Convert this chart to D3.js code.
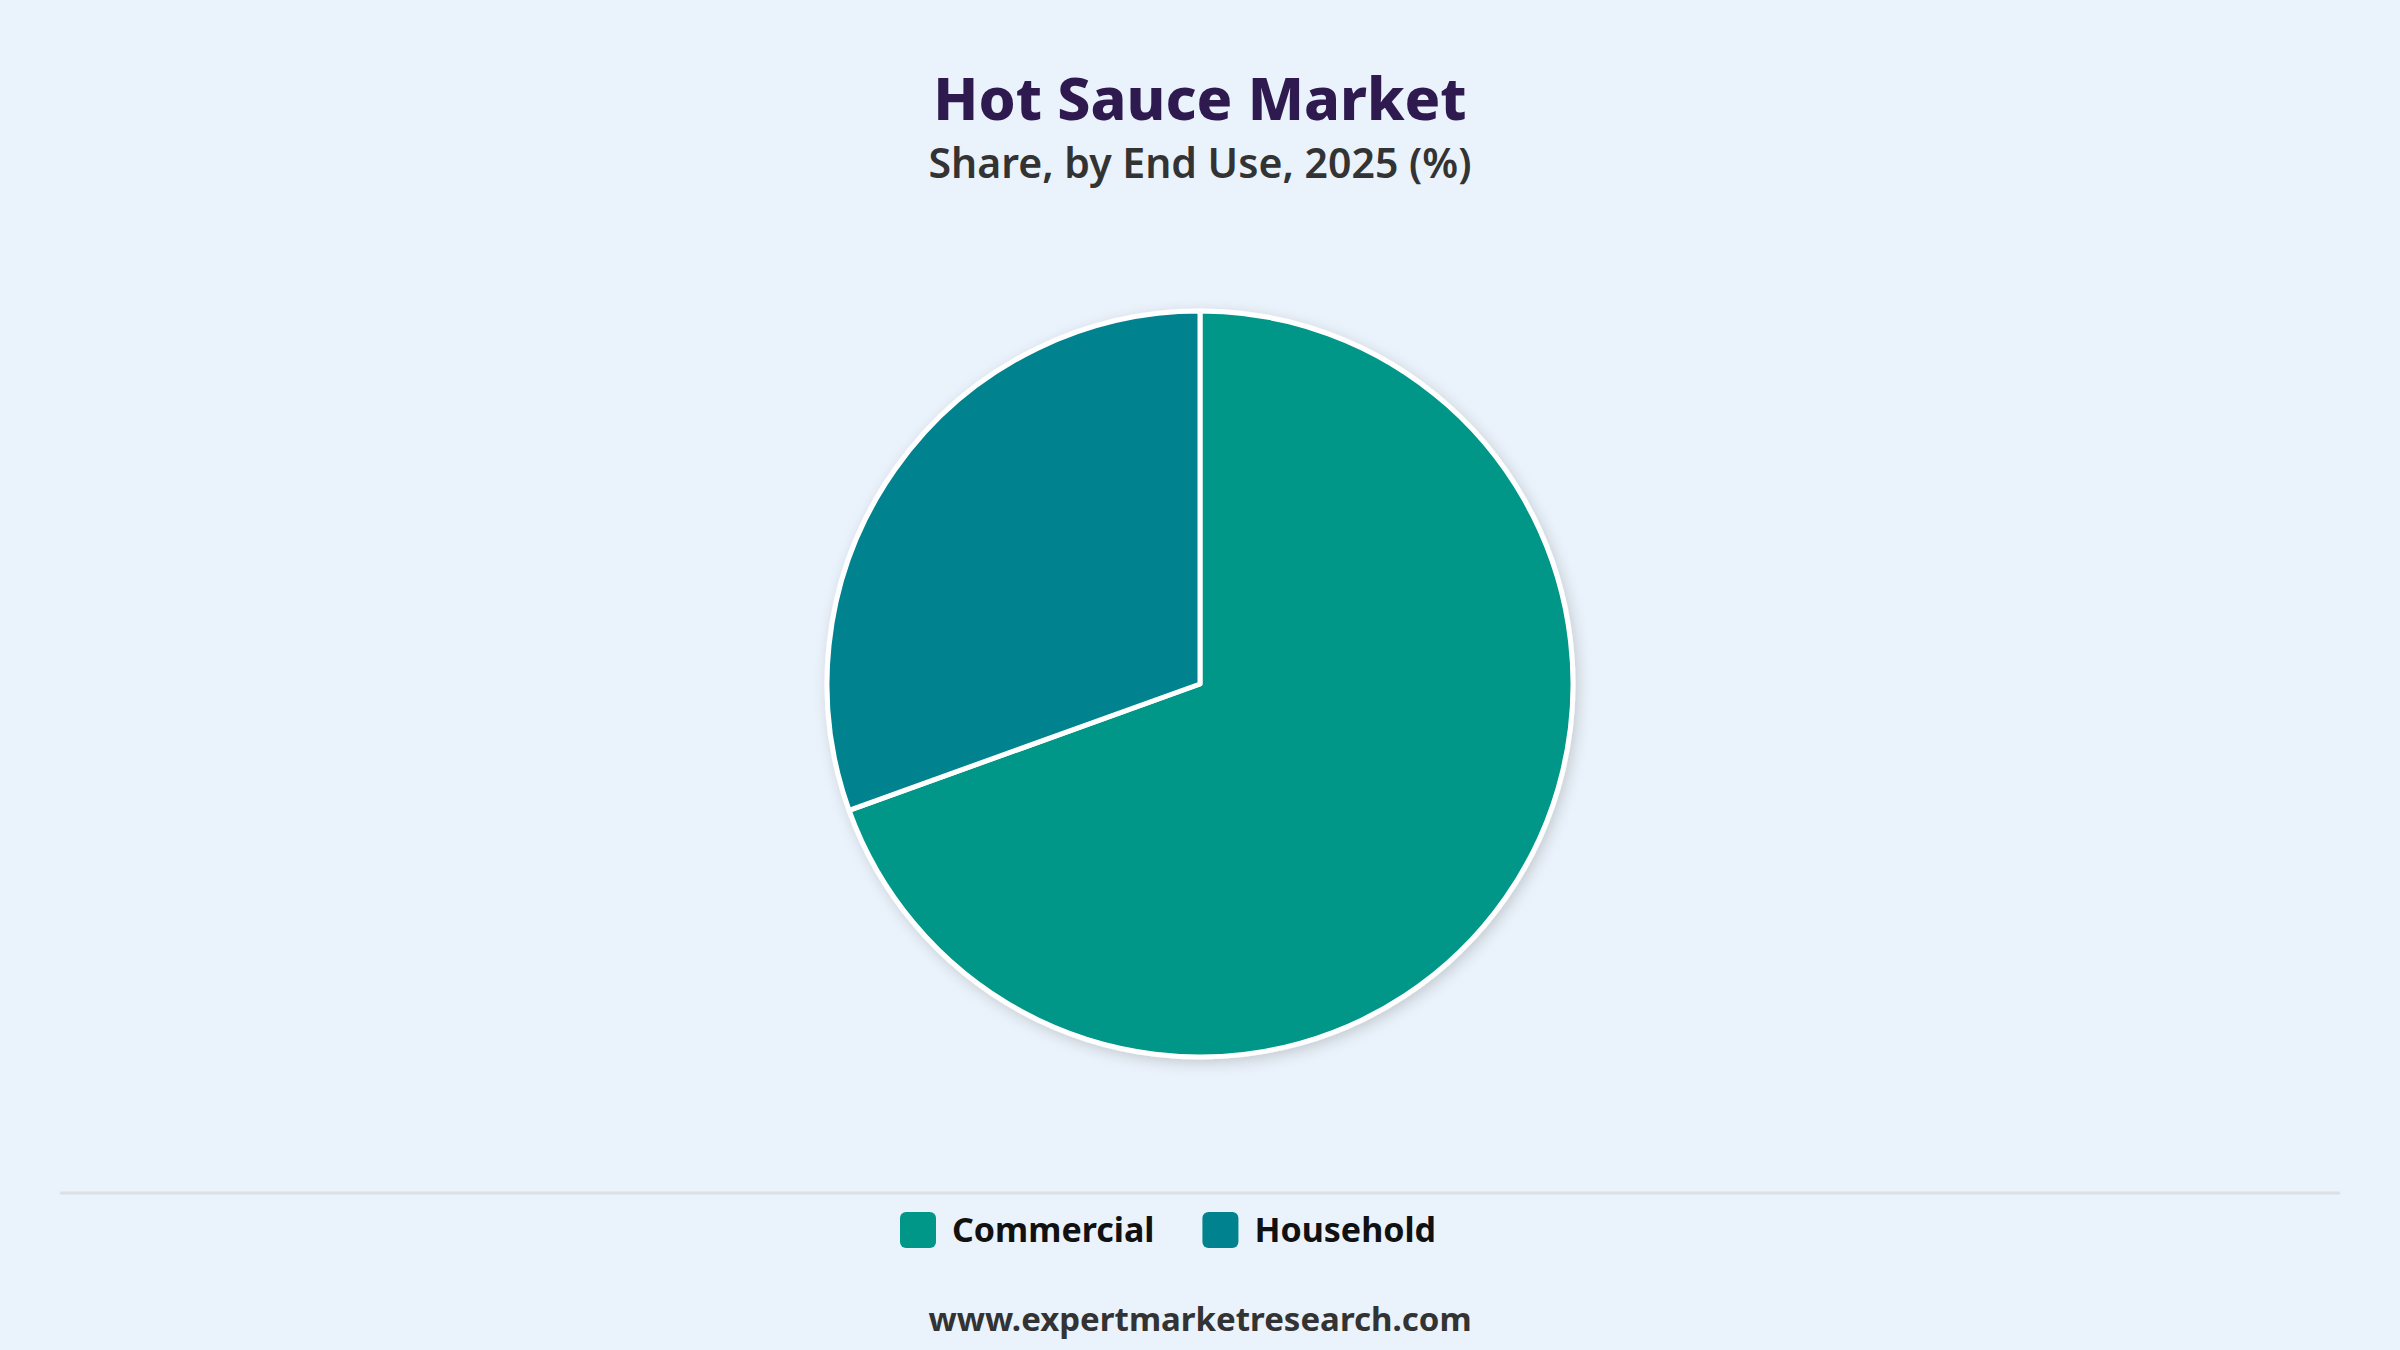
<!DOCTYPE html>
<html>
<head>
<meta charset="utf-8">
<script src="https://cdn.jsdelivr.net/npm/d3@7"></script>
<style>
  html, body { margin: 0; padding: 0; background: #EAF2FB; }
  svg { display: block; font-family: "Noto Sans", "Open Sans", sans-serif; }
</style>
</head>
<body>
<svg id="chart"></svg>
<script>
// chart data
const categories = ["Commercial", "Household"];
const shares = [69.5, 30.5];
const sliceColors = ["#009688", "#00838F"];

const titleText = "Hot Sauce Market";
const subtitleText = "Share, by End Use, 2025 (%)";
const sourceText = "www.expertmarketresearch.com";

const width = 2400, height = 1350;
const cx = 1200, cy = 684, radius = 373;

const svg = d3.select("#chart")
    .attr("width", width)
    .attr("height", height);

svg.append("rect")
    .attr("width", width)
    .attr("height", height)
    .attr("fill", "#EAF2FB");

// soft shadow behind the pie
const defs = svg.append("defs");
const shadow = defs.append("filter")
    .attr("id", "pieShadow")
    .attr("x", "-20%").attr("y", "-20%")
    .attr("width", "140%").attr("height", "140%");
shadow.append("feDropShadow")
    .attr("dx", 3).attr("dy", 4)
    .attr("stdDeviation", 7)
    .attr("flood-color", "#000")
    .attr("flood-opacity", 0.16);

// titles
svg.append("text")
    .attr("x", cx).attr("y", 120)
    .attr("text-anchor", "middle")
    .style("font-size", "59px")
    .style("font-weight", 800)
    .style("fill", "#2E1A4F")
    .text(titleText);

svg.append("text")
    .attr("x", cx).attr("y", 178)
    .attr("text-anchor", "middle")
    .style("font-size", "41px")
    .style("font-weight", 600)
    .style("fill", "#333333")
    .text(subtitleText);

// pie
const color = d3.scaleOrdinal().domain(categories).range(sliceColors);
const data = categories.map((c, i) => ({ name: c, value: shares[i] }));

const pie = d3.pie()
    .sort(null)
    .value(d => d.value);

const arc = d3.arc()
    .innerRadius(0)
    .outerRadius(radius);

const g = svg.append("g")
    .attr("transform", `translate(${cx},${cy})`)
    .attr("filter", "url(#pieShadow)");

g.selectAll("path")
    .data(pie(data))
    .join("path")
    .attr("d", arc)
    .attr("fill", d => color(d.data.name))
    .attr("stroke", "#ffffff")
    .attr("stroke-width", 5)
    .attr("stroke-linejoin", "round");

// divider line above legend
svg.append("line")
    .attr("x1", 60).attr("x2", 2340)
    .attr("y1", 1193).attr("y2", 1193)
    .attr("stroke", "#DCDFE3")
    .attr("stroke-width", 3);

// legend, laid out from measured text widths
const legendX = 900;
const legend = svg.append("g");
const items = legend.selectAll("g")
    .data(categories)
    .join("g");

items.append("rect")
    .attr("width", 36).attr("height", 36)
    .attr("y", 1212)
    .attr("rx", 6)
    .attr("fill", d => color(d));

items.append("text")
    .attr("y", 1242)
    .style("font-size", "34px")
    .style("font-weight", 700)
    .style("fill", "#111111")
    .text(d => d);

let x = legendX;
items.each(function () {
    const sel = d3.select(this);
    sel.select("rect").attr("x", x);
    sel.select("text").attr("x", x + 52);
    x += 52 + sel.select("text").node().getComputedTextLength() + 48;
});

// source
svg.append("text")
    .attr("x", cx).attr("y", 1331)
    .attr("text-anchor", "middle")
    .style("font-size", "33px")
    .style("font-weight", 700)
    .style("fill", "#333333")
    .text(sourceText);
</script>
</body>
</html>
